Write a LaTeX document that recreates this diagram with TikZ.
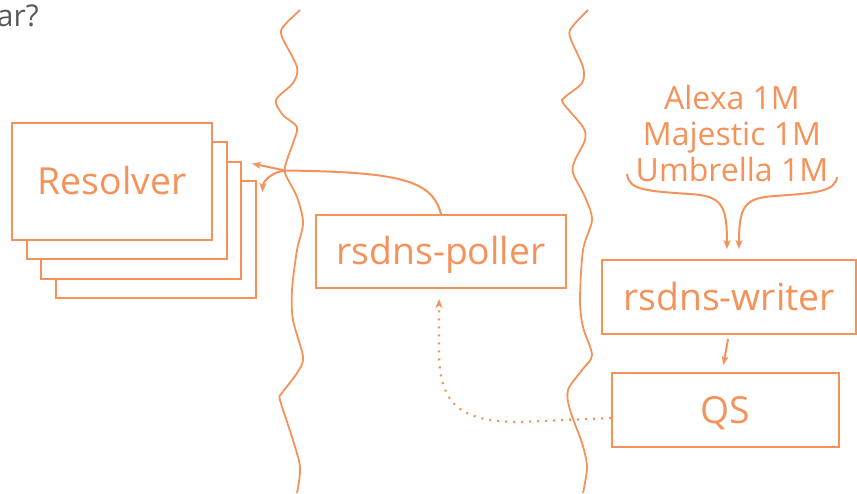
\documentclass[tikz,border=0pt]{standalone}
\usepackage{fontspec}
\setmainfont{Open Sans}
\usetikzlibrary{arrows.meta,calc}
\definecolor{cforange}{RGB}{245,146,90}
\definecolor{slidegray}{RGB}{90,90,90}

\begin{document}
\begin{tikzpicture}[x=1pt, y=-1pt, line width=2pt, box/.style={draw=cforange, fill=white, rectangle, inner sep=0pt, text=cforange, font=\fontsize{37.3}{40}\selectfont, text height=26pt, text depth=0pt}, stack/.style={box, minimum width=200pt, minimum height=117pt}, arr/.style={draw=cforange, -{Stealth[length=9pt,width=7pt,inset=2.5pt]}}, wave/.style={draw=cforange, line width=1.8pt}, dots/.style={arr, line width=2.2pt, dash pattern=on 2pt off 6pt}]
\useasboundingbox (0,0) rectangle (857,493);
\draw[wave] plot[smooth] coordinates {(300,10) (283,27) (282,37) (297,67) (293,83) (276,100) (283,115) (297,127) (293,143) (287,160) (285,173) (297,197) (303,223) (297,250) (292,290) (293,320) (303,357) (297,373) (282,393) (280,400) (292,437) (300,467) (297,493)};
\draw[wave] plot[smooth] coordinates {(588,10) (572,27) (570,37) (583,67) (582,83) (565,97) (563,103) (583,127) (585,140) (575,160) (573,173) (585,197) (592,220) (583,250) (580,300) (583,327) (592,355) (582,370) (568,390) (570,410) (582,443) (587,467) (583,493)};
\node[text=slidegray, anchor=base east, font=\fontsize{30}{36}\selectfont] (title) at (43,26) {ar?};
\node[stack] (r4) at (155.5,239.5) {};
\node[stack] (r3) at (141,220) {};
\node[stack] (r2) at (126.5,200.5) {};
\node[stack] (r1) at (112,181.5) {Resolver};
\node[box, minimum width=250pt, minimum height=73pt] (poller) at (441,251.5) {rsdns-poller};
\node[box, minimum width=254pt, minimum height=74pt] (writer) at (729,297) {rsdns-writer};
\node[box, minimum width=227pt, minimum height=74pt] (qs) at (725.5,410) {QS};
\node[text=cforange, align=center, font=\fontsize{32}{36}\selectfont] (lists) at (732,133) {Alexa 1M\\Majestic 1M\\Umbrella 1M};
\coordinate (fork) at (285,170.5);
\coordinate (lsrc) at (627,174);
\coordinate (rsrc) at (837,177);
\draw[arr] (poller.north) .. controls (432,180) and (400,172) .. (fork) -- ([xshift=10pt,yshift=-3pt]r3.north east);
\draw[arr] (fork) .. controls (272,172) and (263,181) .. ([xshift=6pt,yshift=-12pt]r4.north east);
\draw[arr] (lsrc) .. controls (629,190) and (645,191) .. (690,194) .. controls (722,196) and (727,205) .. ([xshift=-2pt,yshift=10pt]writer.north);
\draw[arr] (rsrc) .. controls (835,192) and (815,193) .. (775,196) .. controls (745,198) and (739,205) .. ([xshift=10pt,yshift=10pt]writer.north);
\draw[arr] ([xshift=-1pt,yshift=-4pt]writer.south) -- ([xshift=-2pt,yshift=7pt]qs.north);
\draw[dots] ([yshift=-8pt]qs.west) -- (520,422) .. controls (455,422) and (439,400) .. (439,350) -- ([xshift=-2pt,yshift=-10pt]poller.south);
\end{tikzpicture}
\end{document}
